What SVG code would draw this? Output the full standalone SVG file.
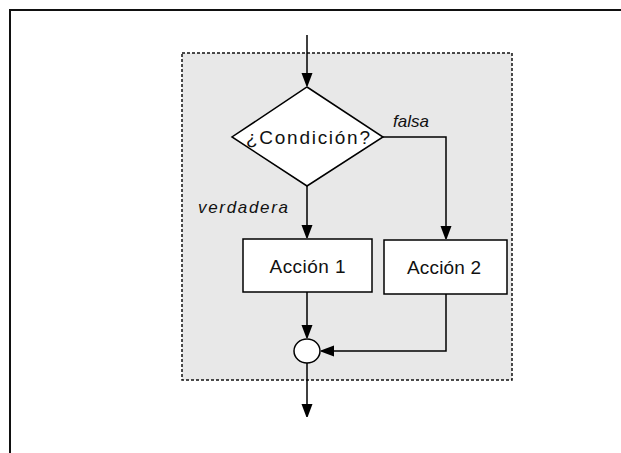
<svg xmlns="http://www.w3.org/2000/svg" width="621" height="453" viewBox="0 0 621 453">
<style>
.ln{fill:none;stroke:#000;stroke-width:1.5}
.nd{fill:#fff;stroke:#000;stroke-width:1.5}
.t{font-family:"Liberation Sans",Arial,sans-serif;fill:#111}
.it{font-style:italic;font-size:17px}
</style>
<defs>
<marker id="ah" markerUnits="userSpaceOnUse" markerWidth="14" markerHeight="12" viewBox="-13 -6 14 12" refX="0" refY="0" orient="auto">
<path d="M-13,-5.5 L-1,-1 L0,0 L-1,1 L-13,5.5 Z" fill="#000"/>
</marker>
</defs>
<rect width="621" height="453" fill="#fff"/>
<path d="M10,453 V10 H621" fill="none" stroke="#111" stroke-width="2"/>
<rect id="frame" x="182" y="53" width="330" height="327" fill="#e8e8e8" stroke="#111" stroke-width="1.5" stroke-dasharray="3 2"/>
<g id="connectors">
<path class="ln" d="M307,35 V86" marker-end="url(#ah)"/>
<path class="ln" d="M383,137 H446 V239" marker-end="url(#ah)"/>
<path class="ln" d="M307,186 V238" marker-end="url(#ah)"/>
<path class="ln" d="M307,292 V338" marker-end="url(#ah)"/>
<path class="ln" d="M446,294 V351 H321" marker-end="url(#ah)"/>
<path class="ln" d="M307,363 V417" marker-end="url(#ah)"/>
</g>
<g id="decision">
<polygon class="nd" points="307,87 383,137 307,186 232,137"/>
<text class="t" x="308" y="144" font-size="19" text-anchor="middle" textLength="124" lengthAdjust="spacing">¿Condición?</text>
</g>
<g id="label-falsa"><text class="t it" x="393" y="127">falsa</text></g>
<g id="label-verdadera"><text class="t it" x="198" y="213" textLength="90" lengthAdjust="spacing">verdadera</text></g>
<g id="accion1">
<rect class="nd" x="243" y="239" width="129" height="53"/>
<text class="t" x="307.5" y="273" font-size="19" text-anchor="middle" textLength="76" lengthAdjust="spacing">Acción 1</text>
</g>
<g id="accion2">
<rect class="nd" x="384" y="240" width="123" height="54"/>
<text class="t" x="444" y="274" font-size="19" text-anchor="middle" textLength="74" lengthAdjust="spacing">Acción 2</text>
</g>
<g id="merge">
<ellipse class="nd" cx="307" cy="351" rx="13" ry="12"/>
</g>
</svg>
